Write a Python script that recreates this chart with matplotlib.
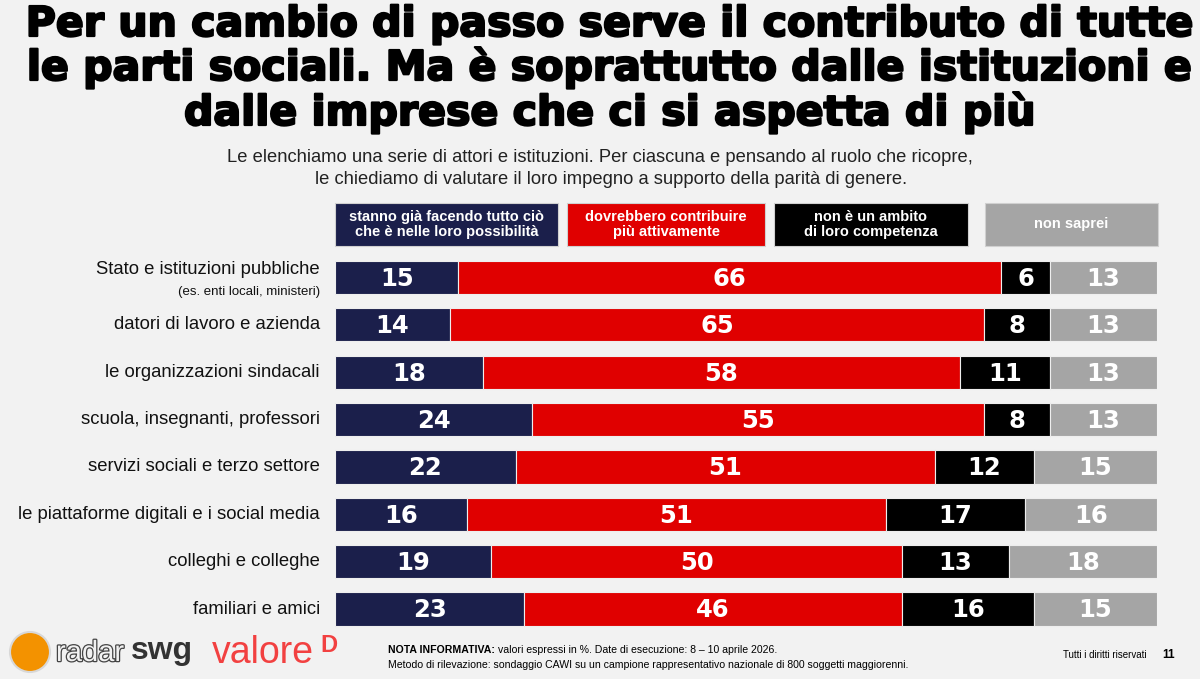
import matplotlib.pyplot as plt
import matplotlib.patheffects as pe
from matplotlib.patches import Rectangle, Ellipse

# data
categorie = ['Stato e istituzioni pubbliche', 'datori di lavoro e azienda',
             'le organizzazioni sindacali', 'scuola, insegnanti, professori',
             'servizi sociali e terzo settore', 'le piattaforme digitali e i social media',
             'colleghi e colleghe', 'familiari e amici']
stanno = [15, 14, 18, 24, 22, 16, 19, 23]
dovrebbero = [66, 65, 58, 55, 51, 51, 50, 46]
non_ambito = [6, 8, 11, 8, 12, 17, 13, 16]
non_saprei = [13, 13, 13, 13, 15, 16, 18, 15]
serie_nomi = ['stanno già facendo tutto ciò\nche è nelle loro possibilità',
              'dovrebbero contribuire\npiù attivamente',
              'non è un ambito\ndi loro competenza',
              'non saprei']
colori = ['#1b1f4b', '#e00000', '#000000', '#a5a5a5']

W, H = 1200, 679
bg = '#f2f2f2'
fig = plt.figure(figsize=(W / 100, H / 100), dpi=100, facecolor=bg)
renderer = fig.canvas.get_renderer()

def px(x, y):
    return x / W, 1 - y / H

narrow = ['Liberation Sans Narrow', 'Liberation Sans', 'DejaVu Sans']
arial = ['Liberation Sans', 'DejaVu Sans']

# title, centred, sized so the first line spans about 1168 px
titolo = ['Per un cambio di passo serve il contributo di tutte',
          'le parti sociali. Ma è soprattutto dalle istituzioni e',
          'dalle imprese che ci si aspetta di più']
t_objs = []
for riga, yb in zip(titolo, [36, 80, 125]):
    t_objs.append(fig.text(*px(611, yb), riga, fontsize=30, fontweight='bold',
                           family=['DejaVu Sans'], va='baseline', ha='center', color='black',
                           path_effects=[pe.withStroke(linewidth=1.6, foreground='black')]))
w0 = t_objs[0].get_window_extent(renderer).width
for t in t_objs:
    t.set_fontsize(30 * 1166 / w0)

fig.text(*px(600, 158), 'Le elenchiamo una serie di attori e istituzioni. Per ciascuna e pensando al ruolo che ricopre,',
         fontsize=13.2, family=arial, ha='center', va='center', color='#222222')
fig.text(*px(611, 180), 'le chiediamo di valutare il loro impegno a supporto della parità di genere.',
         fontsize=13.2, family=arial, ha='center', va='center', color='#222222')

# legend boxes
boxes = [(335, 558), (567, 765), (774, 968), (985, 1158)]
for (x0, x1), nome, c in zip(boxes, serie_nomi, colori):
    fig.patches.append(Rectangle(px(x0, 246), (x1 - x0) / W, 43 / H, transform=fig.transFigure,
                                 facecolor=c, edgecolor='#d0d0d0', lw=0.8))
    fig.text(*px((x0 + x1) / 2, 224.5), nome, fontsize=10.5, fontweight='bold', family=narrow,
             color='white', ha='center', va='center', linespacing=1.15)

# bars
top, bot = 253.8, 632.7
ax = fig.add_axes([335 / W, 1 - bot / H, 822 / W, (bot - top) / H])
ax.set_facecolor(bg)
ax.set_xlim(0, 100)
ax.set_ylim(7.5, -0.5)
ax.axis('off')

y = list(range(len(categorie)))
left = [0] * len(categorie)
for vals, c in zip([stanno, dovrebbero, non_ambito, non_saprei], colori):
    ax.barh(y, vals, left=left, height=0.7, color=c, edgecolor='#eeeeee', linewidth=0.8)
    for yi, l, v in zip(y, left, vals):
        ax.text(l + v / 2, yi + 0.03, str(v), ha='center', va='center', color='white',
                fontsize=17.5, fontweight='bold', family=['DejaVu Sans'])
    left = [l + v for l, v in zip(left, vals)]

for yi, cat in zip(y, categorie):
    if yi == 0:
        ax.text(-1.85, yi - 0.16, cat, ha='right', va='center', fontsize=13.3, family=arial, color='#111111')
        ax.text(-1.85, yi + 0.3, '(es. enti locali, ministeri)', ha='right', va='center',
                fontsize=9.5, family=arial, color='#111111')
    else:
        ax.text(-1.85, yi, cat, ha='right', va='center', fontsize=13.3, family=arial, color='#111111')

# footer logos
fig.patches.append(Ellipse(px(30, 652), 40 / W, 40 / H, transform=fig.transFigure, facecolor='#f39200',
                           edgecolor='#d8d8d8', lw=1.5))
fig.text(*px(56, 653), 'radar', fontsize=21, family=arial, color='#f2f2f2', va='center', ha='left',
         path_effects=[pe.withStroke(linewidth=1.8, foreground='#444444')])
fig.text(*px(131, 651), 'swg', fontsize=23, fontweight='bold', family=arial, color='#333333', va='center', ha='left')
fig.text(*px(212, 653), 'valore', fontsize=27, family=arial, color='#f24141', va='center', ha='left')
fig.text(*px(320, 645), 'D', fontsize=17, fontweight='bold', family=arial, color='#f24141', va='center', ha='left')

nota = fig.text(*px(388, 650), 'NOTA INFORMATIVA:', fontsize=7.6, fontweight='bold', family=arial,
                color='black', va='center', ha='left')
nw = nota.get_window_extent(renderer).width
fig.text(*px(388 + nw + 3, 650), 'valori espressi in %. Date di esecuzione: 8 – 10 aprile 2026.',
         fontsize=7.6, family=arial, color='black', va='center', ha='left')
fig.text(*px(388, 665), 'Metodo di rilevazione: sondaggio CAWI su un campione rappresentativo nazionale di 800 soggetti maggiorenni.',
         fontsize=7.6, family=arial, color='black', va='center', ha='left')
fig.text(*px(1063, 655), 'Tutti i diritti riservati', fontsize=7, family=narrow, color='black', va='center', ha='left')
fig.text(*px(1162, 655), '11', fontsize=8.5, fontweight='bold', family=arial, color='black', va='center', ha='left')

fig.savefig('out.png', dpi=100, facecolor=bg)
